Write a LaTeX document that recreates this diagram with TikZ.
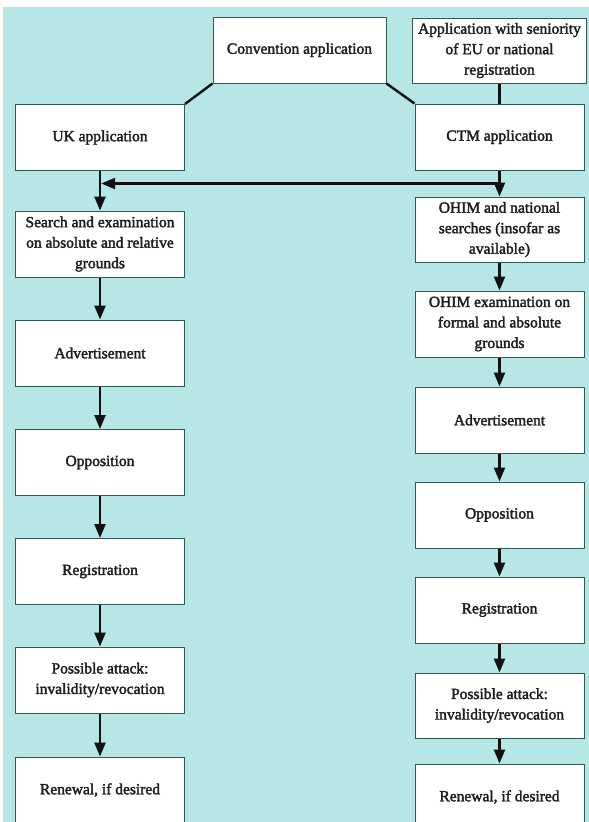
\documentclass[tikz,border=0pt]{standalone}
\usepackage{fontspec}
\setmainfont{Liberation Serif}
\newfontfamily\boxfont[FakeBold=2.2]{Liberation Serif}
\usetikzlibrary{arrows.meta,calc}
\definecolor{bgcyan}{HTML}{B6E6E5}
\definecolor{boxline}{HTML}{2E5A5A}
\definecolor{ink}{HTML}{111111}
\definecolor{txt}{HTML}{1E1E1E}
\begin{document}
\begin{tikzpicture}[x=1pt,y=-1pt,
  box/.style={draw=boxline, line width=1pt, fill=white, minimum width=169pt,
    minimum height=66pt, inner sep=0pt, align=center,
    font=\boxfont\fontsize{15.5}{20.5}\selectfont, text=txt},
  conn/.style={draw=ink, line width=2.4pt},
  arr/.style={conn, -{Triangle[length=14pt,width=11pt]}}]
\useasboundingbox (0,0) rectangle (589,822);
\fill[white] (0,0) rectangle (589,822);
\fill[bgcyan] (3,7) rectangle (589,822);
% top row
\node[box, minimum width=173pt] (conv) at (299.5,50) {Convention application};
\node[box, minimum width=174pt, minimum height=65pt] (sen) at (499.5,50.5) {Application with seniority\\of EU or national\\registration};
% left column
\node[box] (uk) at (100,137.5) {UK application};
\node[box] (search) at (100,244) {Search and examination\\on absolute and relative\\grounds};
\node[box] (advL) at (100,353) {Advertisement};
\node[box] (oppL) at (100,462.5) {Opposition};
\node[box] (regL) at (100,571.5) {Registration};
\node[box] (attL) at (100,680) {Possible attack:\\invalidity/revocation};
\node[box] (renL) at (100,790) {Renewal, if desired};
% right column
\node[box] (ctm) at (499.5,137) {CTM application};
\node[box, minimum height=65pt] (ohim1) at (499.5,229.5) {OHIM and national\\searches (insofar as\\available)};
\node[box] (ohim2) at (499.5,324) {OHIM examination on\\formal and absolute\\grounds};
\node[box] (advR) at (499.5,420) {Advertisement};
\node[box] (oppR) at (499.5,515) {Opposition};
\node[box] (regR) at (499.5,610) {Registration};
\node[box, minimum height=65pt] (attR) at (499.5,705.5) {Possible attack:\\invalidity/revocation};
\node[box] (renR) at (499.5,797) {Renewal, if desired};
% connectors
\draw[conn] (conv.south west) -- (uk.north east);
\draw[conn] (conv.south east) -- (ctm.north west);
\draw[conn] (sen.south) -- (ctm.north);
\coordinate (jl) at (100,183.5);
\coordinate (jr) at (499.5,183.5);
\draw[arr] (jr) -- ([xshift=1.2pt]jl);
\draw[arr] (uk.south) -- (search.north);
\draw[arr] (search.south) -- (advL.north);
\draw[arr] (advL.south) -- (oppL.north);
\draw[arr] (oppL.south) -- (regL.north);
\draw[arr] (regL.south) -- (attL.north);
\draw[arr] (attL.south) -- (renL.north);
\draw[arr] (ctm.south) -- (ohim1.north);
\draw[arr] (ohim1.south) -- (ohim2.north);
\draw[arr] (ohim2.south) -- (advR.north);
\draw[arr] (advR.south) -- (oppR.north);
\draw[arr] (oppR.south) -- (regR.north);
\draw[arr] (regR.south) -- (attR.north);
\draw[arr] (attR.south) -- (renR.north);
\end{tikzpicture}
\end{document}
